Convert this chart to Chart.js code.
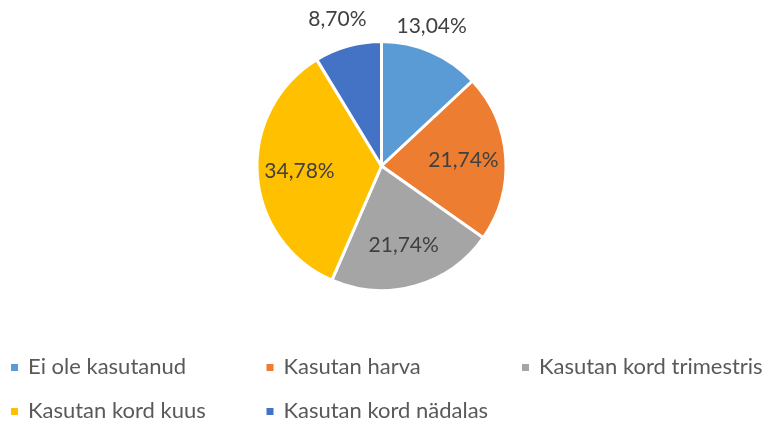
<!DOCTYPE html>
<html>
<head>
    <title>Kasutamine</title>
    <script src="https://cdn.jsdelivr.net/npm/chart.js"></script>
    <style>
        body { margin: 0; background: #ffffff; }
        #pieChart { display: block; }
    </style>
</head>
<body>
    <canvas id="pieChart" width="765" height="423"></canvas>

    <script>
        // Categories and values (percent of respondents)
        const categories = ['Ei ole kasutanud', 'Kasutan harva', 'Kasutan kord trimestris', 'Kasutan kord kuus', 'Kasutan kord nädalas'];
        const percentValues = [13.04, 21.74, 21.74, 34.78, 8.70];
        const sliceColors = ['#5B9BD5', '#ED7D31', '#A5A5A5', '#FFC000', '#4472C4'];

        const fontFamily = 'Lato, "Open Sans", sans-serif';

        function formatPercent(v) {
            return v.toFixed(2).replace('.', ',') + '%';
        }

        // Percent labels: inside for big slices, outside for small ones
        const sliceLabels = {
            id: 'sliceLabels',
            afterDatasetsDraw(chart) {
                const ctx = chart.ctx;
                const meta = chart.getDatasetMeta(0);
                ctx.save();
                ctx.font = '21px ' + fontFamily;
                ctx.fillStyle = '#404040';
                ctx.textAlign = 'center';
                ctx.textBaseline = 'middle';
                meta.data.forEach((arc, i) => {
                    const p = arc.getProps(['x', 'y', 'startAngle', 'endAngle', 'outerRadius']);
                    const mid = (p.startAngle + p.endAngle) / 2;
                    const text = formatPercent(percentValues[i]);
                    let x, y;
                    if (percentValues[i] < 15) {
                        // outside end, pushed sideways off the top of the pie
                        const w = ctx.measureText(text).width;
                        x = p.x + Math.sign(Math.cos(mid)) * (w / 2 + 15);
                        y = p.y + Math.sin(mid) * (p.outerRadius + 28);
                    } else {
                        const r = p.outerRadius * 0.66;
                        x = p.x + Math.cos(mid) * r;
                        y = p.y + Math.sin(mid) * r;
                    }
                    ctx.fillText(text, x, y);
                });
                ctx.restore();
            }
        };

        // Legend laid out in a grid, three columns
        const gridLegend = {
            id: 'gridLegend',
            afterDraw(chart) {
                const ctx = chart.ctx;
                ctx.save();
                ctx.font = '22px ' + fontFamily;
                ctx.textBaseline = 'middle';
                categories.forEach((name, i) => {
                    const col = i % 3;
                    const row = Math.floor(i / 3);
                    const x = 11 + col * 255.5;
                    const y = 367 + row * 44;
                    ctx.fillStyle = sliceColors[i];
                    ctx.fillRect(x, y - 3, 7, 7);
                    ctx.fillStyle = '#595959';
                    ctx.fillText(name, x + 17, y);
                });
                ctx.restore();
            }
        };

        const ctx = document.getElementById('pieChart').getContext('2d');
        new Chart(ctx, {
            type: 'pie',
            data: {
                labels: categories,
                datasets: [{
                    data: percentValues,
                    backgroundColor: sliceColors,
                    borderColor: '#ffffff',
                    borderWidth: 3
                }]
            },
            options: {
                responsive: false,
                animation: false,
                layout: {
                    padding: { top: 40, bottom: 131, left: 0, right: 2 }
                },
                plugins: {
                    legend: { display: false },
                    tooltip: { enabled: false }
                }
            },
            plugins: [sliceLabels, gridLegend]
        });
    </script>
</body>
</html>
